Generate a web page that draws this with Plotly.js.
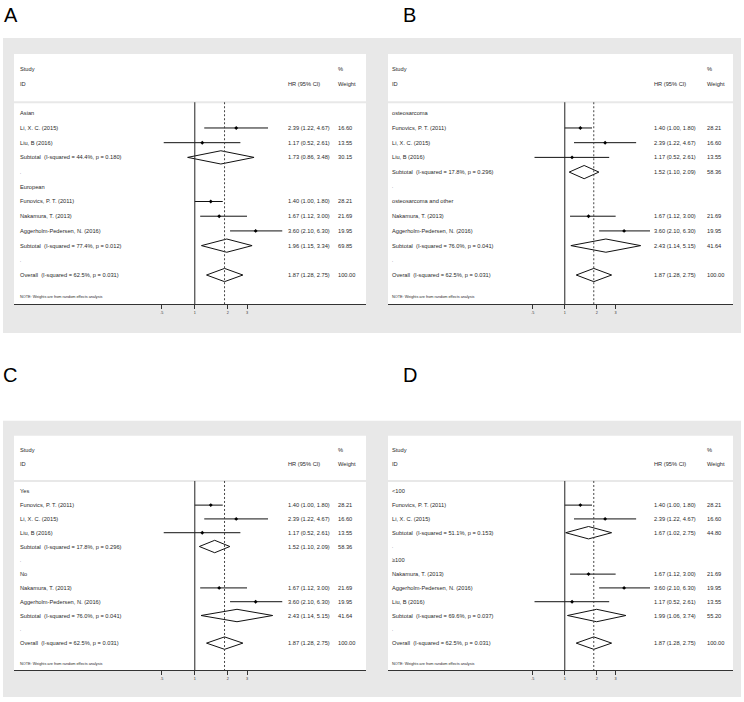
<!DOCTYPE html>
<html><head><meta charset="utf-8">
<script src="https://cdn.plot.ly/plotly-3.0.1.min.js"></script>
<style>html,body{margin:0;padding:0;background:#fff;}#chart{width:744px;height:702px;}</style>
</head><body><div id="chart"></div>
<script>
// ---------- data ----------
const studyNames = ['Funovics, P. T. (2011)', 'Li, X. C. (2015)', 'Liu, B (2016)', 'Nakamura, T. (2013)', 'Aggerholm-Pedersen, N. (2016)'];
const studyHR = [1.40, 2.39, 1.17, 1.67, 3.60];
const studyLo = [1.00, 1.22, 0.52, 1.12, 2.10];
const studyHi = [1.80, 4.67, 2.61, 3.00, 6.30];
const studyWeight = [28.21, 16.60, 13.55, 21.69, 19.95];

const overallEst = [1.87, 1.28, 2.75];   // HR, lower, upper
const overallWeight = 100.00;
const overallI2 = '62.5%';
const overallP = '0.031';

const panelLetters = ['A', 'B', 'C', 'D'];

const groupsA = ['Asian', 'European'];
const membersA = [[1, 2], [0, 3, 4]];
const subHR_A = [1.73, 1.96];
const subLo_A = [0.86, 1.15];
const subHi_A = [3.48, 3.34];
const subW_A = [30.15, 69.85];
const subI2_A = ['44.4%', '77.4%'];
const subP_A = ['0.180', '0.012'];

const groupsB = ['osteosarcoma', 'osteosarcoma and other'];
const membersB = [[0, 1, 2], [3, 4]];
const subHR_B = [1.52, 2.43];
const subLo_B = [1.10, 1.14];
const subHi_B = [2.09, 5.15];
const subW_B = [58.36, 41.64];
const subI2_B = ['17.8%', '76.0%'];
const subP_B = ['0.296', '0.041'];

const groupsC = ['Yes', 'No'];
const membersC = [[0, 1, 2], [3, 4]];
const subHR_C = [1.52, 2.43];
const subLo_C = [1.10, 1.14];
const subHi_C = [2.09, 5.15];
const subW_C = [58.36, 41.64];
const subI2_C = ['17.8%', '76.0%'];
const subP_C = ['0.296', '0.041'];

const groupsD = ['<100', '\u2265100'];
const membersD = [[0, 1], [3, 4, 2]];
const subHR_D = [1.67, 1.99];
const subLo_D = [1.02, 1.06];
const subHi_D = [2.75, 3.74];
const subW_D = [44.80, 55.20];
const subI2_D = ['51.1%', '69.6%'];
const subP_D = ['0.153', '0.037'];

const tickVals = [0.5, 1, 2, 3];
const tickText = ['.5', '1', '2', '3'];

// ---------- layout geometry (pixels) ----------
const W = 744, H = 702;
const px = v => v / W;
const py = v => 1 - v / H;
const FONT = '"Liberation Sans", Arial, sans-serif';
const GRAY = '#e8e8e8';
const TXT = '#2a2a2a';

const geom = [
  {gray: [3, 38, 372, 333], white: [14, 54, 366, 304], labelX: 19, hrX: 286.7, wX: 337.3, range: [-1.6527, 1.5649], letter: [3, 15]},
  {gray: [372, 38, 741, 333], white: [388, 54, 733, 304], labelX: 391, hrX: 652.7, wX: 706.3, range: [-1.6585, 1.578], letter: [401.5, 15]},
  {gray: [3, 420.7, 372, 697], white: [14, 435.7, 366, 670.3], labelX: 19, hrX: 286.7, wX: 337.3, range: [-1.6527, 1.5649], letter: [2, 375.5]},
  {gray: [372, 420.7, 741, 697], white: [388, 435.7, 733, 670.3], labelX: 391, hrX: 652.7, wX: 706.3, range: [-1.6585, 1.578], letter: [401.5, 375.5]}
];
const Y_TOP = -4.03, Y_BOT = 12.97, SEP_Y = -0.75, DIA_H = 0.45;

const panelData = [
  {groups: groupsA, members: membersA, hr: subHR_A, lo: subLo_A, hi: subHi_A, w: subW_A, i2: subI2_A, p: subP_A},
  {groups: groupsB, members: membersB, hr: subHR_B, lo: subLo_B, hi: subHi_B, w: subW_B, i2: subI2_B, p: subP_B},
  {groups: groupsC, members: membersC, hr: subHR_C, lo: subLo_C, hi: subHi_C, w: subW_C, i2: subI2_C, p: subP_C},
  {groups: groupsD, members: membersD, hr: subHR_D, lo: subLo_D, hi: subHi_D, w: subW_D, i2: subI2_D, p: subP_D}
];

const esc = s => s.replace(/&/g, '&amp;').replace(/</g, '&lt;').replace(/>/g, '&gt;');
const fmtCI = (e, l, u) => e.toFixed(2) + ' (' + l.toFixed(2) + ', ' + u.toFixed(2) + ')';

const traces = [];
const annotations = [];
const shapes = [];
const layout = {
  width: W, height: H, margin: {l: 0, r: 0, t: 0, b: 0},
  paper_bgcolor: '#fff', plot_bgcolor: 'rgba(0,0,0,0)', showlegend: false,
  annotations: annotations, shapes: shapes
};

function ann(text, xpx, y, yref, size) {
  return {text: text, x: px(xpx), xref: 'paper', xanchor: 'left', y: y, yref: yref, yanchor: 'middle',
    showarrow: false, borderpad: 0, font: {family: FONT, size: size || 5.7, color: TXT}};
}

geom.forEach((g, i) => {
  const sfx = i === 0 ? '' : String(i + 1);
  const xa = 'x' + sfx, ya = 'y' + sfx;
  const d = panelData[i];

  // backgrounds
  shapes.push({type: 'rect', xref: 'paper', yref: 'paper', layer: 'below',
    x0: px(g.gray[0]), x1: px(g.gray[2]), y0: py(g.gray[3]), y1: py(g.gray[1]),
    fillcolor: GRAY, line: {width: 0}});
  shapes.push({type: 'rect', xref: 'paper', yref: 'paper', layer: 'below',
    x0: px(g.white[0]), x1: px(g.white[2]), y0: py(g.white[3]), y1: py(g.white[1]),
    fillcolor: '#ffffff', line: {width: 0}});

  layout['xaxis' + sfx] = {
    domain: [px(g.white[0]), px(g.white[2])], anchor: ya, type: 'log', range: g.range,
    showgrid: false, zeroline: false, showline: true, linecolor: '#333', linewidth: 1,
    ticks: 'outside', ticklen: 4, tickwidth: 1, tickcolor: '#333',
    tickmode: 'array', tickvals: tickVals, ticktext: tickText,
    tickfont: {family: FONT, size: 3.8, color: '#333'}, fixedrange: true
  };
  layout['yaxis' + sfx] = {
    domain: [py(g.white[3]), py(g.white[1])], anchor: xa, range: [Y_BOT, Y_TOP],
    visible: false, showgrid: false, zeroline: false, fixedrange: true
  };

  // separator line under header
  shapes.push({type: 'line', xref: xa + ' domain', yref: ya, x0: 0, x1: 1, y0: SEP_Y, y1: SEP_Y,
    line: {color: GRAY, width: 2}, layer: 'below'});
  // null line at HR = 1
  shapes.push({type: 'line', xref: xa, yref: ya, x0: 1, x1: 1, y0: SEP_Y, y1: Y_BOT,
    line: {color: '#222', width: 1}, layer: 'above'});
  // overall effect dashed line
  shapes.push({type: 'line', xref: xa, yref: ya, x0: overallEst[0], x1: overallEst[0], y0: SEP_Y, y1: Y_BOT,
    line: {color: '#444', width: 1, dash: '2px,2px'}, layer: 'above'});

  // header
  annotations.push(ann('Study', g.labelX, -3, ya));
  annotations.push(ann('ID', g.labelX, -2, ya));
  annotations.push(ann('HR (95% CI)', g.hrX, -2, ya));
  annotations.push(ann('%', g.wX, -3, ya));
  annotations.push(ann('Weight', g.wX, -2, ya));

  const ciX = [], ciY = [], mX = [], mY = [], dX = [], dY = [];
  let k = 0;
  d.groups.forEach((grp, gi) => {
    annotations.push(ann(esc(grp), g.labelX, k, ya));
    k++;
    d.members[gi].forEach(s => {
      ciX.push(studyLo[s], studyHi[s], null); ciY.push(k, k, null);
      mX.push(studyHR[s]); mY.push(k);
      annotations.push(ann(esc(studyNames[s]), g.labelX, k, ya));
      annotations.push(ann(fmtCI(studyHR[s], studyLo[s], studyHi[s]), g.hrX, k, ya));
      annotations.push(ann(studyWeight[s].toFixed(2), g.wX, k, ya));
      k++;
    });
    dX.push(d.lo[gi], d.hr[gi], d.hi[gi], d.hr[gi], d.lo[gi], null);
    dY.push(k, k - DIA_H, k, k + DIA_H, k, null);
    annotations.push(ann('Subtotal\u00a0 (I-squared = ' + d.i2[gi] + ', p = ' + d.p[gi] + ')', g.labelX, k, ya));
    annotations.push(ann(fmtCI(d.hr[gi], d.lo[gi], d.hi[gi]), g.hrX, k, ya));
    annotations.push(ann(d.w[gi].toFixed(2), g.wX, k, ya));
    k++;
    annotations.push(ann('.', g.labelX, k, ya, 4));
    k++;
  });
  dX.push(overallEst[1], overallEst[0], overallEst[2], overallEst[0], overallEst[1], null);
  dY.push(k, k - DIA_H, k, k + DIA_H, k, null);
  annotations.push(ann('Overall\u00a0 (I-squared = ' + overallI2 + ', p = ' + overallP + ')', g.labelX, k, ya));
  annotations.push(ann(fmtCI(overallEst[0], overallEst[1], overallEst[2]), g.hrX, k, ya));
  annotations.push(ann(overallWeight.toFixed(2), g.wX, k, ya));
  annotations.push(ann('NOTE: Weights are from random effects analysis', g.labelX, k + 1.5, ya, 3.8));

  traces.push({type: 'scatter', mode: 'lines', x: ciX, y: ciY, xaxis: xa, yaxis: ya,
    line: {color: '#111', width: 1}, hoverinfo: 'skip', connectgaps: false});
  traces.push({type: 'scatter', mode: 'lines', x: dX, y: dY, xaxis: xa, yaxis: ya, fill: 'toself',
    fillcolor: '#ffffff', line: {color: '#111', width: 1}, hoverinfo: 'skip', connectgaps: false});
  traces.push({type: 'scatter', mode: 'markers', x: mX, y: mY, xaxis: xa, yaxis: ya,
    marker: {symbol: 'diamond', size: 3, color: '#000'}, hoverinfo: 'skip'});

  // panel letter
  annotations.push({text: panelLetters[i], x: px(g.letter[0]), xref: 'paper', xanchor: 'left',
    y: py(g.letter[1]), yref: 'paper', yanchor: 'middle', showarrow: false, borderpad: 0,
    font: {family: FONT, size: 20, color: '#000'}});
});

Plotly.newPlot('chart', traces, layout, {staticPlot: true, displayModeBar: false});
</script>
</body></html>
